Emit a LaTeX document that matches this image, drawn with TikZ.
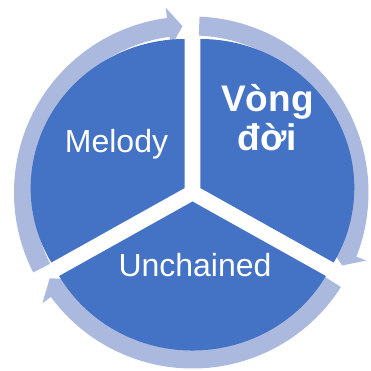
\documentclass[tikz,border=0pt]{standalone}
\usepackage{fontspec}
\setmainfont{Liberation Sans}
\usepackage{tikz}
\definecolor{segblue}{RGB}{68,114,196}
\definecolor{ringblue}{RGB}{170,185,221}
\tikzset{seg/.style={fill=segblue}}
\tikzset{ring/.style={fill=ringblue}}
\tikzset{lbl/.style={text=white, inner sep=0pt}}

\begin{document}
\begin{tikzpicture}[x=1pt,y=1pt]
\useasboundingbox (-192.5,-178.5) rectangle (178.5,192.5);
% circular arrows
\foreach \s/\h/\t/\dx in {207/97.5/92.6/-2.5, 87.7/-21.4/-26/0, -32.5/-143.6/-149/0} {
\fill[ring, shift={(\dx,0)}] (\s:176pt) arc[start angle=\s, end angle=\h, radius=176pt] -- (\h:186.5pt) -- (\t:166.5pt) -- (\h:146.5pt) -- (\h:157pt) arc[start angle=\h, end angle=\s, radius=157pt] -- cycle;
}
% segments
\foreach \b in {150,30,270} {
\fill[seg] (\b:9pt) -- +(\b+60:154pt and 149pt) arc[start angle=\b+60, end angle=\b-60, x radius=154pt, y radius=149pt] -- cycle;
}
\node[lbl, font=\fontsize{32}{38}\selectfont, anchor=base] (melody) at (-76,39.5) {Melody};
\node[lbl, font=\bfseries\fontsize{37}{39}\selectfont, align=center, anchor=base] (vongdoi) at (75,41.5) {Vòng\\đời};
\node[lbl, font=\fontsize{32}{38}\selectfont, anchor=base] (unchained) at (2.5,-84.5) {Unchained};
\end{tikzpicture}
\end{document}
